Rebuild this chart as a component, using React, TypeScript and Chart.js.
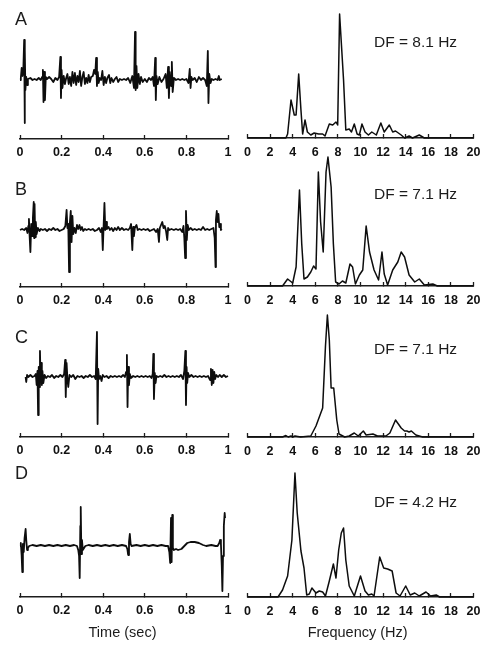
import React, { useEffect, useRef } from "react";
import { Chart, registerables } from "chart.js";

Chart.register(...registerables);

// ---------- DATA ----------
// time axis ticks (sec) and frequency axis ticks (Hz)
const TIME_TICKS = [0, 0.2, 0.4, 0.6, 0.8, 1];
const FREQ_TICKS = [0, 2, 4, 6, 8, 10, 12, 14, 16, 18, 20];

const PANEL_LETTERS = ["A", "B", "C", "D"];
const DF_LABELS = ["DF = 8.1 Hz", "DF = 7.1 Hz", "DF = 7.1 Hz", "DF = 4.2 Hz"];

// electrogram traces: [time (sec), amplitude (a.u.)]
const TRACE_A: [number, number][] = [
  [0, 0], [0.004, 2], [0.008, 12], [0.012, 4], [0.016, 10], [0.02, 40], [0.022, -43], [0.024, 30], [0.026, -10],
  [0.03, 3], [0.034, -5], [0.038, 1], [0.05, 2], [0.06, 0], [0.07, 1], [0.08, 0], [0.09, 2], [0.1, 0], [0.106, 3],
  [0.11, 10], [0.113, -22], [0.116, 8], [0.12, -20], [0.124, 3], [0.13, 1], [0.14, 3], [0.15, 1], [0.16, -2],
  [0.17, 2], [0.18, 0], [0.188, 3], [0.194, 23], [0.197, -18], [0.2, 10], [0.204, -8], [0.21, 4], [0.216, -4],
  [0.222, 2], [0.228, 6], [0.234, -4], [0.24, 3], [0.246, -6], [0.252, 8], [0.258, -3], [0.264, 7], [0.27, -5],
  [0.276, 4], [0.282, -2], [0.288, 9], [0.294, -6], [0.3, 3], [0.306, 8], [0.312, -4], [0.318, 2], [0.324, -3],
  [0.33, 5], [0.336, -2], [0.342, 3], [0.35, 4], [0.356, 10], [0.362, 6], [0.366, 22], [0.37, -6], [0.374, 8],
  [0.378, -3], [0.384, 2], [0.39, 0], [0.396, 9], [0.402, -5], [0.408, 3], [0.414, -3], [0.42, 2], [0.428, 5],
  [0.434, -3], [0.44, 2], [0.448, -2], [0.456, 1], [0.464, 3], [0.472, -2], [0.48, 1], [0.49, 0], [0.5, 1],
  [0.51, 0], [0.52, 2], [0.53, -3], [0.54, 4], [0.548, -8], [0.553, 48], [0.556, -10], [0.56, 14], [0.564, -8],
  [0.57, 6], [0.576, -4], [0.582, 3], [0.59, -2], [0.6, 1], [0.61, -2], [0.62, 2], [0.63, 0], [0.638, 3],
  [0.644, -6], [0.65, 22], [0.653, -20], [0.656, 4], [0.662, -4], [0.67, 3], [0.68, -2], [0.69, 1], [0.7, 6],
  [0.706, -8], [0.712, 13], [0.716, -18], [0.72, 8], [0.726, -6], [0.73, 18], [0.734, -12], [0.74, 2], [0.75, 0],
  [0.76, 1], [0.77, 0], [0.78, 1], [0.79, 0], [0.8, 1], [0.81, -3], [0.816, 11], [0.82, -8], [0.824, 3], [0.83, 0],
  [0.84, 2], [0.85, -2], [0.86, 3], [0.87, 0], [0.88, 2], [0.89, 0], [0.898, -6], [0.903, 29], [0.906, -23],
  [0.91, 6], [0.916, -3], [0.922, 1], [0.93, 0], [0.94, 1], [0.95, 0], [0.956, 4], [0.96, 0], [0.97, 1],
];

const TRACE_B: [number, number][] = [
  [0, 0], [0.01, 1], [0.02, 0], [0.03, 2], [0.036, -3], [0.04, 4], [0.043, 11], [0.046, -5], [0.05, -22], [0.054, 6],
  [0.058, -6], [0.062, 12], [0.066, 28], [0.068, -8], [0.07, 26], [0.073, -7], [0.076, 8], [0.08, -4], [0.086, 2],
  [0.094, -1], [0.1, 1], [0.11, 0], [0.12, 1], [0.13, -1], [0.14, 1], [0.15, 0], [0.16, 2], [0.17, 0], [0.18, 1],
  [0.19, -1], [0.2, 0], [0.21, 1], [0.218, 4], [0.224, 20], [0.228, 2], [0.232, 6], [0.236, -42], [0.24, 8],
  [0.244, 19], [0.248, -12], [0.252, 14], [0.256, -4], [0.262, 2], [0.268, -3], [0.274, 5], [0.28, 1], [0.286, 5],
  [0.292, 0], [0.298, 3], [0.304, -1], [0.312, 1], [0.32, 0], [0.33, 1], [0.34, 0], [0.35, 1], [0.36, -1], [0.37, 0],
  [0.38, 2], [0.388, -2], [0.394, 2], [0.398, -20], [0.402, 4], [0.406, 27], [0.41, 0], [0.414, 8], [0.418, 1],
  [0.426, 3], [0.432, 0], [0.44, 2], [0.448, -1], [0.456, 2], [0.464, 0], [0.472, 3], [0.48, 0], [0.49, 2], [0.5, 0],
  [0.51, 1], [0.52, 0], [0.528, 2], [0.534, 6], [0.54, -20], [0.544, 3], [0.548, -6], [0.552, 2], [0.56, 5],
  [0.566, 0], [0.574, 1], [0.584, 0], [0.594, 1], [0.604, 0], [0.614, 1], [0.624, -1], [0.634, 0], [0.644, 1],
  [0.654, -2], [0.662, 1], [0.668, -12], [0.672, 2], [0.678, 5], [0.684, 8], [0.69, 2], [0.696, 4], [0.702, -1],
  [0.708, -10], [0.712, 2], [0.718, 0], [0.728, 1], [0.74, 0], [0.75, 1], [0.76, 0], [0.77, 1], [0.78, -2],
  [0.786, 4], [0.79, -8], [0.794, -28], [0.798, 19], [0.802, -10], [0.806, 5], [0.812, 0], [0.82, 2], [0.83, 0],
  [0.84, 1], [0.85, 0], [0.86, 1], [0.87, 0], [0.88, 3], [0.89, 0], [0.9, 1], [0.91, 0], [0.92, 1], [0.93, 2],
  [0.936, -8], [0.94, -37], [0.942, 10], [0.946, 19], [0.95, 8], [0.954, 16], [0.958, 3], [0.962, 6], [0.966, 0],
  [0.97, 1],
];

const TRACE_C: [number, number][] = [
  [0.027, 0], [0.03, -5], [0.034, 2], [0.04, 0], [0.05, 2], [0.06, 0], [0.07, 1], [0.076, 3], [0.08, -8], [0.084, 6],
  [0.087, -38], [0.09, 10], [0.094, -10], [0.096, 26], [0.099, -5], [0.102, 14], [0.105, -8], [0.108, 6],
  [0.112, -6], [0.118, 2], [0.126, -1], [0.134, 1], [0.144, 0], [0.154, 2], [0.164, -1], [0.174, 1], [0.184, 0],
  [0.194, 2], [0.204, 0], [0.212, 3], [0.217, 17], [0.22, -20], [0.224, 14], [0.228, -2], [0.232, -10], [0.238, 2],
  [0.246, 0], [0.256, 2], [0.266, -2], [0.276, 1], [0.286, 0], [0.296, 1], [0.306, -1], [0.316, 1], [0.326, 0],
  [0.336, 2], [0.346, 0], [0.356, 1], [0.364, -2], [0.37, 45], [0.373, -47], [0.376, 8], [0.38, -2], [0.386, 1],
  [0.392, -4], [0.398, 2], [0.406, 0], [0.416, 1], [0.426, -1], [0.436, 1], [0.446, 0], [0.456, 1], [0.466, 0],
  [0.476, 1], [0.486, 0], [0.496, 2], [0.504, 0], [0.51, 5], [0.514, 22], [0.517, -30], [0.52, 10], [0.524, -8],
  [0.528, 3], [0.534, -1], [0.544, 1], [0.554, 0], [0.564, 1], [0.574, 0], [0.584, 1], [0.594, 0], [0.604, 1],
  [0.614, 0], [0.624, 1], [0.632, -1], [0.638, 3], [0.641, 23], [0.644, -22], [0.648, 4], [0.652, -6], [0.656, 1],
  [0.664, 0], [0.674, 1], [0.684, 0], [0.694, 2], [0.704, 0], [0.714, 1], [0.724, 0], [0.734, 1], [0.744, 0],
  [0.754, 1], [0.764, 0], [0.774, 2], [0.784, -2], [0.79, 6], [0.795, 26], [0.798, -28], [0.801, 10], [0.804, -6],
  [0.808, 4], [0.814, 0], [0.824, 2], [0.834, 0], [0.844, 1], [0.854, 0], [0.864, 1], [0.874, 0], [0.884, 1],
  [0.894, 0], [0.904, 1], [0.914, -3], [0.918, 8], [0.922, -8], [0.926, 7], [0.93, -6], [0.934, 5], [0.938, -2],
  [0.944, 2], [0.952, 0], [0.96, 2], [0.97, 0], [0.98, 2], [0.99, 0], [1.0, 1],
];

const TRACE_D: [number, number][] = [
  [0, 0], [0.004, 3], [0.008, -10], [0.011, -26], [0.014, 2], [0.018, -6], [0.022, 8], [0.027, 17], [0.03, 6],
  [0.034, -4], [0.038, -2], [0.044, 0], [0.06, 1], [0.08, 0], [0.1, 1], [0.12, 0], [0.14, 1], [0.16, 0], [0.18, 1],
  [0.2, 0], [0.22, 1], [0.24, 0], [0.26, 1], [0.274, 0], [0.28, -4], [0.284, -10], [0.287, -32], [0.29, 20],
  [0.292, 39], [0.295, -8], [0.298, 6], [0.302, -4], [0.308, -2], [0.314, 0], [0.33, 1], [0.35, 0], [0.37, 1],
  [0.39, 0], [0.41, 1], [0.43, 0], [0.45, 1], [0.47, 0], [0.49, 1], [0.51, 0], [0.516, -3], [0.52, -9], [0.524, 4],
  [0.528, 12], [0.532, 2], [0.536, 0], [0.56, 1], [0.58, 0], [0.6, 1], [0.62, 0], [0.64, 1], [0.66, 0], [0.68, 1],
  [0.7, 0], [0.712, 0], [0.718, -6], [0.722, -17], [0.726, 28], [0.729, -16], [0.732, 31], [0.735, -2], [0.74, -4],
  [0.75, -3], [0.76, -4], [0.776, -3], [0.79, 0], [0.804, 3], [0.82, 4], [0.84, 4], [0.86, 3], [0.88, 1], [0.895, 0],
  [0.92, 1], [0.94, 0], [0.95, 0], [0.958, 3], [0.962, 6], [0.966, 2], [0.97, -20], [0.973, -45], [0.976, -10],
  [0.98, 20], [0.984, 33], [0.986, 28],
];

// power spectra: frequency (Hz) and power (a.u.)
const SPEC_A_F = [0, 3.4, 3.55, 3.85, 4.14, 4.3, 4.53, 4.73, 4.88, 5.09, 5.3, 5.6, 5.9, 6.3, 6.65, 6.86, 7.24, 7.54, 7.83, 7.98, 8.15, 8.5, 8.7, 9.0, 9.2, 9.45, 9.7, 9.9, 10.13, 10.4, 10.7, 11.0, 11.4, 11.8, 12.1, 12.55, 12.85, 13.1, 13.6, 13.9, 14.3, 14.6, 15.2, 15.65, 20];
const SPEC_A_P = [0, 0, 4, 38, 23, 23, 64, 28, 4, 18, 6, 3, 5, 4, 4, 2, 14, 13, 16, 13, 124, 58, 8, 9, 6, 14, 4, 3, 14, 6, 3, 6, 3, 15, 6, 13, 6, 7, 3, 0, 2, 0, 3, 0, 0];

const SPEC_B_F = [0, 3.1, 3.55, 4.0, 4.3, 4.6, 4.8, 5.0, 5.3, 5.6, 5.85, 6.06, 6.27, 6.47, 6.7, 6.95, 7.12, 7.4, 7.6, 7.8, 8.1, 8.4, 8.7, 9.07, 9.3, 9.55, 9.9, 10.2, 10.5, 10.8, 11.2, 11.6, 11.9, 12.1, 12.4, 12.85, 13.3, 13.6, 13.9, 14.3, 14.8, 15.2, 15.65, 16.4, 16.8, 20];
const SPEC_B_P = [0, 0, 7, 3, 19, 96, 42, 7, 9, 14, 20, 17, 114, 64, 34, 114, 129, 99, 42, 4, 2, 5, 3, 22, 19, 2, 11, 16, 60, 34, 16, 6, 34, 12, 1, 16, 24, 34, 29, 11, 4, 7, 1, 2, 0, 0];

const SPEC_C_F = [0, 3.1, 3.4, 3.6, 3.85, 4.0, 4.2, 4.7, 5.6, 6.06, 6.65, 6.9, 7.07, 7.24, 7.4, 7.63, 7.9, 8.1, 8.6, 9.0, 9.45, 9.8, 10.25, 10.5, 11.1, 11.5, 12.25, 12.6, 13.1, 13.6, 13.9, 14.1, 14.3, 14.5, 14.9, 15.5, 20];
const SPEC_C_P = [0, 0, 1.5, 0, 1, 0, 1, 0, 1, 11, 29, 91, 122, 97, 49, 49, 17, 3, 0, 1, 4, 1, 6, 2, 3, 1, 1, 4, 17, 9, 6, 6, 5, 6, 2, 0, 0];

const SPEC_D_F = [0, 2.7, 3.1, 3.55, 3.93, 4.2, 4.4, 4.73, 5.0, 5.24, 5.47, 5.7, 6.06, 6.35, 6.65, 6.9, 7.24, 7.6, 7.83, 8.07, 8.3, 8.5, 8.7, 9.0, 9.45, 10.0, 10.4, 10.7, 11.0, 11.2, 11.7, 12.05, 12.4, 12.8, 13.15, 13.5, 14.0, 14.4, 14.8, 15.2, 15.8, 16.2, 16.7, 17.0, 20];
const SPEC_D_P = [0, 0, 7, 21, 57, 124, 84, 46, 29, 2, 3, 9, 4, 6, 5, 1, 16, 33, 19, 47, 64, 69, 37, 11, 1, 21, 6, 2, 3, 1, 40, 29, 28, 26, 4, 1, 11, 2, 4, 1, 5, 1, 2, 0, 0];

// ---------- LAYOUT ----------
const W = 492;
const H = 649;
const FONT = "'Liberation Sans', Arial, Helvetica, sans-serif";
const INK = "#1c1c1c";

const TIME_AXIS_Y = [139, 287, 437, 597];
const TIME_BASE_Y = [80, 230, 377, 546];
const FREQ_AXIS_Y = [138, 286, 437, 597];
const LETTER_Y = [19, 188.5, 336.5, 473];
const DF_Y = [42, 193.5, 349, 502];

const TRACES = [TRACE_A, TRACE_B, TRACE_C, TRACE_D];
const SPECS: [number[], number[]][] = [
  [SPEC_A_F, SPEC_A_P],
  [SPEC_B_F, SPEC_B_P],
  [SPEC_C_F, SPEC_C_P],
  [SPEC_D_F, SPEC_D_P],
];

type PanelCfg = {
  points: { x: number; y: number }[];
  xMin: number;
  xMax: number;
  ticks: number[];
  yMin: number;
  yMax: number;
  pad: { left: number; right: number; top: number; bottom: number };
  labelPad: number;
  lineWidth: number;
  fmt: (v: number) => string;
};

const SCALE_H = 30;

function buildConfig(p: PanelCfg): any {
  return {
    type: "line",
    data: {
      datasets: [
        {
          data: p.points,
          borderColor: "#0d0d0d",
          borderWidth: p.lineWidth,
          borderJoinStyle: "round",
          pointRadius: 0,
          tension: 0,
          fill: false,
          clip: false,
        },
      ],
    },
    options: {
      responsive: false,
      animation: false,
      events: [],
      layout: { padding: p.pad },
      plugins: {
        legend: { display: false },
        tooltip: { enabled: false },
        title: { display: false },
      },
      scales: {
        x: {
          type: "linear",
          min: p.xMin,
          max: p.xMax,
          afterFit: (s: any) => {
            s.height = SCALE_H;
          },
          afterBuildTicks: (s: any) => {
            s.ticks = p.ticks.map((v) => ({ value: v }));
          },
          grid: {
            display: true,
            drawOnChartArea: false,
            drawTicks: true,
            tickLength: -4,
            tickColor: INK,
            tickWidth: 1.3,
          },
          border: { display: true, color: INK, width: 1.5 },
          ticks: {
            autoSkip: false,
            maxRotation: 0,
            padding: p.labelPad,
            color: "#111",
            font: { family: FONT, size: 12.5, weight: "bold" },
            callback: (v: any) => p.fmt(Number(v)),
          },
        },
        y: { display: false, min: p.yMin, max: p.yMax },
      },
    },
  };
}

function ChartLayer({ cfg }: { cfg: PanelCfg }) {
  const ref = useRef<HTMLCanvasElement>(null);
  useEffect(() => {
    const chart = new Chart(ref.current as HTMLCanvasElement, buildConfig(cfg));
    return () => chart.destroy();
  }, [cfg]);
  return (
    <canvas
      ref={ref}
      width={W}
      height={H}
      style={{ position: "absolute", left: 0, top: 0, width: W, height: H }}
    />
  );
}

const timeFmt = (v: number) => {
  const r = Math.round(v * 10) / 10;
  return r === 0 ? "0" : r === 1 ? "1" : r.toFixed(1);
};
const freqFmt = (v: number) => String(Math.round(v));

const PANELS: PanelCfg[] = [];
for (let i = 0; i < 4; i++) {
  const axis = TIME_AXIS_Y[i];
  const base = TIME_BASE_Y[i];
  PANELS.push({
    points: TRACES[i].map(([t, v]) => ({ x: t, y: v })),
    xMin: 0,
    xMax: 1,
    ticks: TIME_TICKS,
    yMin: -(axis - base),
    yMax: 60,
    pad: { left: 20, right: W - 228, top: base - 60, bottom: H - axis - SCALE_H },
    labelPad: 10.5,
    lineWidth: 1.8,
    fmt: timeFmt,
  });
  const fa = FREQ_AXIS_Y[i];
  const [fs, ps] = SPECS[i];
  PANELS.push({
    points: fs.map((f, j) => ({ x: f, y: ps[j] })),
    xMin: 0,
    xMax: 20,
    ticks: FREQ_TICKS,
    yMin: 0,
    yMax: 135,
    pad: { left: 247.5, right: W - 473.5, top: fa - 135, bottom: H - fa - SCALE_H },
    labelPad: 11.5,
    lineWidth: 1.5,
    fmt: freqFmt,
  });
}

function Label({ text, x, cy, size, center }: { text: string; x: number; cy: number; size: number; center?: boolean }) {
  return (
    <div
      style={{
        position: "absolute",
        left: center ? x - 100 : x,
        width: center ? 200 : undefined,
        textAlign: center ? "center" : "left",
        top: cy - 0.4885 * size,
        fontFamily: FONT,
        fontSize: size,
        lineHeight: 1,
        color: INK,
        whiteSpace: "nowrap",
      }}
    >
      {text}
    </div>
  );
}

export default function App() {
  return (
    <div style={{ position: "absolute", left: 0, top: 0, width: W, height: H, background: "#fff", overflow: "hidden" }}>
      {PANELS.map((p, i) => (
        <ChartLayer key={i} cfg={p} />
      ))}
      {PANEL_LETTERS.map((l, i) => (
        <Label key={"l" + i} text={l} x={15} cy={LETTER_Y[i]} size={18} />
      ))}
      {DF_LABELS.map((t, i) => (
        <Label key={"d" + i} text={t} x={374} cy={DF_Y[i]} size={15.5} />
      ))}
      <Label text="Time (sec)" x={122.5} cy={632.5} size={14.5} center />
      <Label text="Frequency (Hz)" x={357.7} cy={632.5} size={14.5} center />
    </div>
  );
}
